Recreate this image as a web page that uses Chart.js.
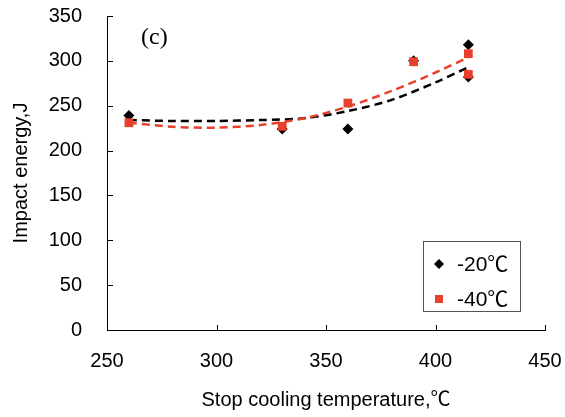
<!DOCTYPE html>
<html>
<head>
<meta charset="utf-8">
<script src="https://cdn.jsdelivr.net/npm/chart.js@4/dist/chart.umd.min.js"></script>
<style>
  html, body { margin: 0; padding: 0; background: #fff; }
  #wrap { width: 565px; height: 417px; }
</style>
</head>
<body>
<div id="wrap"><canvas id="impact-chart" width="565" height="417"></canvas></div>
<script>
// measured points
var tempsMinus20 = [260, 330, 360, 390, 415, 415];
var energyMinus20 = [239, 224, 224, 300, 318, 282];
var tempsMinus40 = [260, 330, 360, 390, 415, 415];
var energyMinus40 = [231, 227, 253, 299, 308, 285];

// trend curves
var trendTemps = [260, 280, 300, 320, 340, 360, 380, 400, 415];
var trendMinus20 = [234, 233, 233, 234, 236, 244, 256.5, 276, 293];
var trendMinus40 = [231, 226.5, 225.5, 228.5, 236, 249, 266.5, 287, 304];

var seriesLabels = ['-20\u2103', '-40\u2103'];
var xTicks = [250, 300, 350, 400, 450];
var yTicks = [0, 50, 100, 150, 200, 250, 300, 350];

var RED = '#E8402C';
var FONT = "'Liberation Sans', Arial, 'Noto Sans CJK SC', sans-serif";

function toPoints(xs, ys) {
    var out = [];
    for (var i = 0; i < xs.length; i++) {
        out.push({x: xs[i], y: ys[i]});
    }
    return out;
}

// short inward tick marks on both axes
var insideTicks = {
    id: 'insideTicks',
    afterDraw: function(chart) {
        var ctx = chart.ctx;
        var xs = chart.scales.x, ys = chart.scales.y;
        ctx.save();
        ctx.strokeStyle = '#000';
        ctx.lineWidth = 1;
        ctx.beginPath();
        xs.ticks.forEach(function(t) {
            var px = Math.round(xs.getPixelForValue(t.value)) + 0.5;
            ctx.moveTo(px, ys.bottom);
            ctx.lineTo(px, ys.bottom - 5);
        });
        ys.ticks.forEach(function(t) {
            var py = Math.round(ys.getPixelForValue(t.value)) + 0.5;
            ctx.moveTo(xs.left, py);
            ctx.lineTo(xs.left + 6, py);
        });
        ctx.stroke();
        ctx.restore();
    }
};

// boxed legend inside the plot, bottom right
var boxLegend = {
    id: 'boxLegend',
    afterDraw: function(chart) {
        var ctx = chart.ctx;
        var area = chart.chartArea;
        var bx = area.right - 122, by = area.bottom - 89;
        ctx.save();
        ctx.fillStyle = '#fff';
        ctx.fillRect(bx, by, 97, 70);
        ctx.strokeStyle = '#555';
        ctx.lineWidth = 1;
        ctx.strokeRect(bx + 0.5, by + 0.5, 97, 70);

        var items = [
            {ds: chart.data.datasets[0], dy: 23},
            {ds: chart.data.datasets[1], dy: 58}
        ];
        items.forEach(function(it) {
            var mx = bx + 16, my = by + it.dy;
            ctx.fillStyle = it.ds.backgroundColor;
            ctx.beginPath();
            if (it.ds.pointStyle === 'rectRot') {
                ctx.moveTo(mx, my - 5);
                ctx.lineTo(mx + 5, my);
                ctx.lineTo(mx, my + 5);
                ctx.lineTo(mx - 5, my);
                ctx.closePath();
            } else {
                ctx.rect(mx - 4, my - 4, 8, 8);
            }
            ctx.fill();
            ctx.fillStyle = '#000';
            ctx.font = '21px ' + FONT;
            ctx.textBaseline = 'middle';
            ctx.textAlign = 'left';
            ctx.fillText(it.ds.label, bx + 34, my + 1);
        });
        ctx.restore();
    }
};

// panel letter
var panelLabel = {
    id: 'panelLabel',
    afterDraw: function(chart) {
        var ctx = chart.ctx;
        var area = chart.chartArea;
        ctx.save();
        ctx.fillStyle = '#000';
        ctx.font = "24px 'Liberation Serif', 'Times New Roman', serif";
        ctx.textBaseline = 'middle';
        ctx.textAlign = 'left';
        ctx.fillText('(c)', area.left + 34, area.top + 22);
        ctx.restore();
    }
};

new Chart(document.getElementById('impact-chart'), {
    type: 'scatter',
    data: {
        datasets: [{
            label: seriesLabels[0],
            data: toPoints(tempsMinus20, energyMinus20),
            pointStyle: 'rectRot',
            pointRadius: 5.5,
            backgroundColor: '#000',
            borderColor: '#000',
            borderWidth: 0,
            order: 1
        }, {
            label: seriesLabels[1],
            data: toPoints(tempsMinus40, energyMinus40),
            pointStyle: 'rect',
            pointRadius: 6.2,
            backgroundColor: RED,
            borderColor: RED,
            borderWidth: 0,
            order: 0
        }, {
            label: 'trend -20',
            data: toPoints(trendTemps, trendMinus20),
            showLine: true,
            pointRadius: 0,
            borderColor: '#000',
            borderWidth: 2.5,
            borderDash: [8, 5],
            tension: 0.3,
            order: 3
        }, {
            label: 'trend -40',
            data: toPoints(trendTemps, trendMinus40),
            showLine: true,
            pointRadius: 0,
            borderColor: RED,
            borderWidth: 2.5,
            borderDash: [8, 5],
            tension: 0.3,
            order: 2
        }]
    },
    options: {
        responsive: false,
        animation: false,
        devicePixelRatio: 1,
        layout: {
            padding: {left: 0, right: 20, top: 16, bottom: 0}
        },
        plugins: {
            legend: {display: false},
            tooltip: {enabled: false}
        },
        scales: {
            x: {
                type: 'linear',
                min: xTicks[0],
                max: xTicks[xTicks.length - 1],
                afterBuildTicks: function(scale) {
                    scale.ticks = xTicks.map(function(v) { return {value: v}; });
                },
                afterFit: function(scale) {
                    scale.height = 87;
                    scale.paddingLeft = 0;
                    scale.paddingRight = 0;
                },
                grid: {display: false, drawTicks: false},
                border: {display: true, color: '#000', width: 1},
                ticks: {
                    padding: 19,
                    color: '#000',
                    font: {family: FONT, size: 20}
                },
                title: {
                    display: true,
                    text: 'Stop cooling temperature,\u2103',
                    color: '#000',
                    font: {family: FONT, size: 20},
                    padding: {top: 0, bottom: 5}
                }
            },
            y: {
                type: 'linear',
                min: yTicks[0],
                max: yTicks[yTicks.length - 1],
                afterBuildTicks: function(scale) {
                    scale.ticks = yTicks.map(function(v) { return {value: v}; });
                },
                afterFit: function(scale) {
                    scale.width = 107;
                    scale.paddingTop = 0;
                    scale.paddingBottom = 0;
                },
                grid: {display: false, drawTicks: false},
                border: {display: true, color: '#000', width: 1},
                ticks: {
                    padding: 25,
                    color: '#000',
                    font: {family: FONT, size: 20}
                },
                title: {
                    display: true,
                    text: 'Impact energy,J',
                    color: '#000',
                    font: {family: FONT, size: 20},
                    padding: {top: 9, bottom: 0}
                }
            }
        }
    },
    plugins: [insideTicks, boxLegend, panelLabel]
});
</script>
</body>
</html>
